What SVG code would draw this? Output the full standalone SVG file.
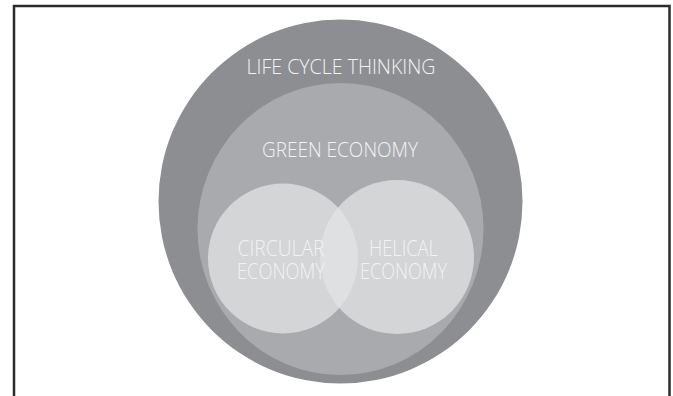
<svg xmlns="http://www.w3.org/2000/svg" width="673" height="396" viewBox="0 0 673 396">
<style>
.lbl{font-family:"Open Sans","Liberation Sans",sans-serif;font-weight:300;fill:#f3f3f3;text-anchor:middle;}
</style>
<defs>
<clipPath id="clipR"><circle cx="397" cy="257" r="77"/></clipPath>
</defs>
<rect width="673" height="396" fill="#ffffff"/>
<path d="M14 396 V6 H669.5 V396" fill="none" stroke="#2b2b2b" stroke-width="2.5"/>
<g id="life-cycle-thinking">
<circle cx="340.5" cy="201.5" r="182" fill="#8d8e91"/>
<text class="lbl" x="341" y="74" font-size="20" textLength="189" lengthAdjust="spacingAndGlyphs">LIFE CYCLE THINKING</text>
</g>
<g id="green-economy">
<ellipse cx="340.5" cy="229" rx="143" ry="146" fill="#a9aaad"/>
<text class="lbl" x="340" y="157" font-size="21" textLength="156" lengthAdjust="spacingAndGlyphs">GREEN ECONOMY</text>
</g>
<g id="circular-economy">
<circle cx="283" cy="258.5" r="75" fill="#d4d5d7"/>
</g>
<g id="helical-economy">
<circle cx="397" cy="257" r="77" fill="#d4d5d7"/>
</g>
<g id="overlap">
<circle cx="283" cy="258.5" r="75" fill="#dfe0e2" clip-path="url(#clipR)"/>
</g>
<g id="labels">
<text class="lbl" x="281" y="256" font-size="22" textLength="87" lengthAdjust="spacingAndGlyphs">CIRCULAR</text>
<text class="lbl" x="281" y="279" font-size="22" textLength="88" lengthAdjust="spacingAndGlyphs">ECONOMY</text>
<text class="lbl" x="403.5" y="256" font-size="22" textLength="69" lengthAdjust="spacingAndGlyphs">HELICAL</text>
<text class="lbl" x="403.5" y="279" font-size="22" textLength="87" lengthAdjust="spacingAndGlyphs">ECONOMY</text>
</g>
<g id="connectors"></g>
</svg>
